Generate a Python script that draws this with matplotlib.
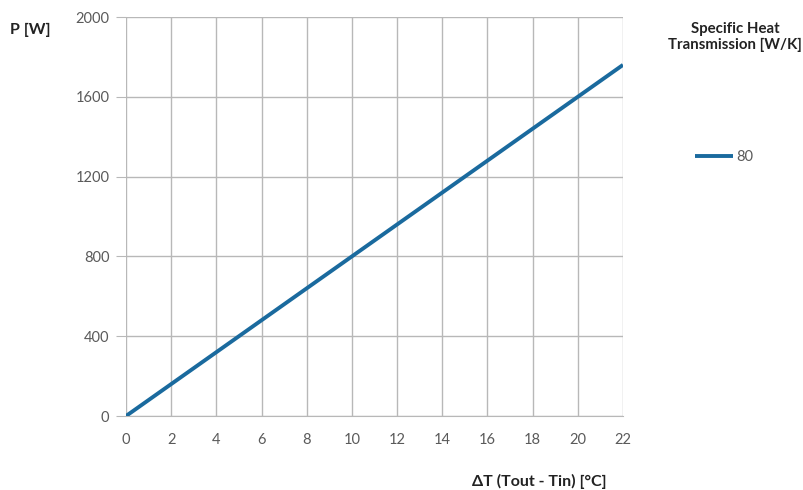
import matplotlib.pyplot as plt

# data
delta_t = [0, 2, 4, 6, 8, 10, 12, 14, 16, 18, 20, 22]
power = [0, 160, 320, 480, 640, 800, 960, 1120, 1280, 1440, 1600, 1760]
series_label = "80"
x_ticks = list(range(0, 23, 2))
y_ticks = [0, 400, 800, 1200, 1600, 2000]

plt.rcParams['font.family'] = ['Lato', 'DejaVu Sans']

fig = plt.figure(figsize=(8.04, 4.90), dpi=100)
ax = fig.add_axes([126 / 804, 1 - 416 / 490, (623 - 126) / 804, (416 - 17) / 490])

line_color = "#1a6a9e"
grid_color = "#b8b8b8"

ax.plot(delta_t, power, color=line_color, lw=2.8, solid_capstyle="butt", label=series_label, zorder=3)

ax.set_xlim(0, 22)
ax.set_ylim(0, 2000)
ax.set_xticks(x_ticks)
ax.set_yticks(y_ticks)
ax.grid(True, color=grid_color, lw=1)
ax.set_axisbelow(True)
for side in ["top", "left", "right"]:
    ax.spines[side].set_visible(False)
ax.spines["bottom"].set_color(grid_color)
ax.tick_params(axis="y", length=7, color=grid_color, labelcolor="#5a5a5a", labelsize=10.5, pad=5)
ax.tick_params(axis="x", length=0, labelcolor="#5a5a5a", labelsize=10.5, pad=12)

fig.text(10 / 804, 1 - 30 / 490, "P [W]", fontsize=11.5, fontweight="bold", color="#222222", va="center")
fig.text(539 / 804, 1 - 481 / 490, "ΔT (Tout - Tin) [°C]", fontsize=11.5, fontweight="bold",
         color="#222222", ha="center", va="center")
fig.text(735 / 804, 1 - 37 / 490, "Specific Heat\nTransmission [W/K]", fontsize=10.8, fontweight="bold",
         color="#222222", ha="center", va="center", linespacing=1.2)

leg = ax.legend(loc="center left", bbox_to_anchor=(682 / 804, 1 - 157 / 490), bbox_transform=fig.transFigure,
                frameon=False, handlelength=2.6, handletextpad=0.2, fontsize=10.5)
for t in leg.get_texts():
    t.set_color("#5a5a5a")

fig.savefig("out.png", dpi=100)
